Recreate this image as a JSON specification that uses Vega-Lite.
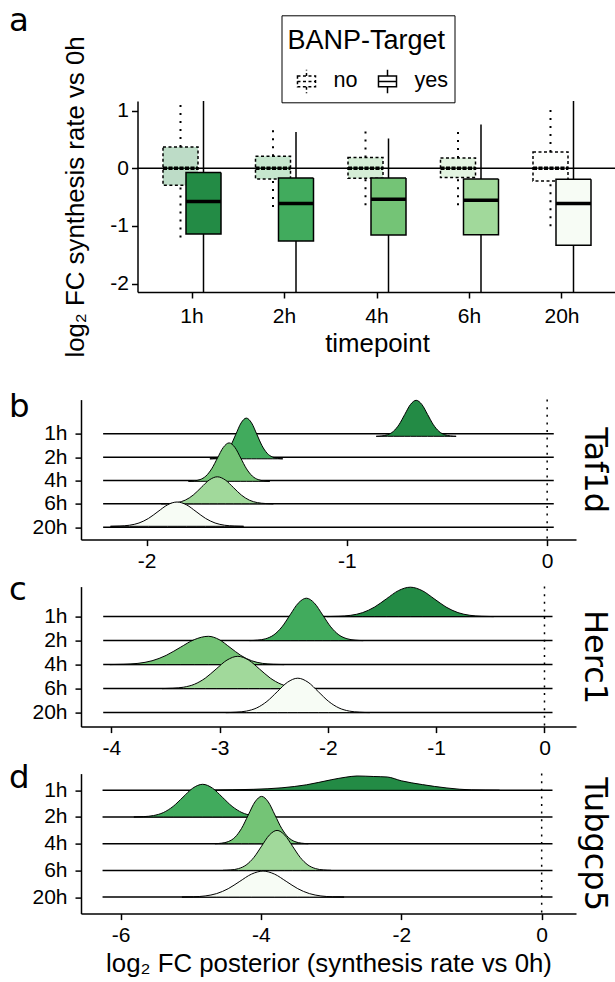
{
"$schema":"https://vega.github.io/schema/vega-lite/v6.json",
"padding":{"left":8,"top":4,"right":0,"bottom":0},
"background":"white",
"config":{"view":{"stroke":null},"font":"Liberation Sans",
"axis":{"grid":false,"domainColor":"#000","tickColor":"#000","labelColor":"#000","titleColor":"#000","labelFont":"Liberation Sans","titleFont":"Liberation Sans","labelFontSize":21,"titleFontSize":25.8,"titleFontWeight":"normal","domainWidth":1.5,"tickWidth":1.5,"tickSize":6,"labelFlush":false,"labelOverlap":false}},
"datasets":{
"boxes":[
{"tp":"1h","target":"no","lower":-1.2,"q1":-0.295,"median":0.0,"q3":0.37,"upper":1.13},
{"tp":"1h","target":"yes","lower":-2.5,"q1":-1.14,"median":-0.577,"q3":-0.075,"upper":1.5},
{"tp":"2h","target":"no","lower":-0.67,"q1":-0.185,"median":0.0,"q3":0.208,"upper":0.67},
{"tp":"2h","target":"yes","lower":-2.5,"q1":-1.26,"median":-0.61,"q3":-0.168,"upper":0.63},
{"tp":"4h","target":"no","lower":-0.64,"q1":-0.173,"median":0.0,"q3":0.185,"upper":0.66},
{"tp":"4h","target":"yes","lower":-2.5,"q1":-1.155,"median":-0.537,"q3":-0.168,"upper":0.515},
{"tp":"6h","target":"no","lower":-0.64,"q1":-0.16,"median":0.0,"q3":0.18,"upper":0.66},
{"tp":"6h","target":"yes","lower":-2.5,"q1":-1.15,"median":-0.555,"q3":-0.185,"upper":0.757},
{"tp":"20h","target":"no","lower":-1.005,"q1":-0.22,"median":0.0,"q3":0.283,"upper":1.06},
{"tp":"20h","target":"yes","lower":-2.5,"q1":-1.335,"median":-0.612,"q3":-0.19,"upper":1.5}],
"baseB":[{"tp":"1h","x":-2.217,"x2":0.033},{"tp":"2h","x":-2.217,"x2":0.033},{"tp":"4h","x":-2.217,"x2":0.033},{"tp":"6h","x":-2.217,"x2":0.033},{"tp":"20h","x":-2.217,"x2":0.033}],
"baseC":[{"tp":"1h","x":-4.075,"x2":0.074},{"tp":"2h","x":-4.075,"x2":0.074},{"tp":"4h","x":-4.075,"x2":0.074},{"tp":"6h","x":-4.075,"x2":0.074},{"tp":"20h","x":-4.075,"x2":0.074}],
"baseD":[{"tp":"1h","x":-6.256,"x2":0.154},{"tp":"2h","x":-6.256,"x2":0.154},{"tp":"4h","x":-6.256,"x2":0.154},{"tp":"6h","x":-6.256,"x2":0.154},{"tp":"20h","x":-6.256,"x2":0.154}],
"ridgeB":[
{"tp":"1h","x":-0.8535,"d":0},{"tp":"1h","x":-0.825,"d":0.04},{"tp":"1h","x":-0.7965,"d":0.158},{"tp":"1h","x":-0.768,"d":0.487},{"tp":"1h","x":-0.7395,"d":1.169},{"tp":"1h","x":-0.711,"d":2.183},{"tp":"1h","x":-0.6825,"d":3.177},{"tp":"1h","x":-0.654,"d":3.6},{"tp":"1h","x":-0.6255,"d":3.177},{"tp":"1h","x":-0.597,"d":2.183},{"tp":"1h","x":-0.5685,"d":1.169},{"tp":"1h","x":-0.54,"d":0.487},{"tp":"1h","x":-0.5115,"d":0.158},{"tp":"1h","x":-0.483,"d":0.04},{"tp":"1h","x":-0.4545,"d":0},
{"tp":"2h","x":-1.684,"d":0},{"tp":"2h","x":-1.658,"d":0.045},{"tp":"2h","x":-1.632,"d":0.179},{"tp":"2h","x":-1.606,"d":0.551},{"tp":"2h","x":-1.58,"d":1.322},{"tp":"2h","x":-1.554,"d":2.468},{"tp":"2h","x":-1.528,"d":3.592},{"tp":"2h","x":-1.502,"d":4.07},{"tp":"2h","x":-1.476,"d":3.592},{"tp":"2h","x":-1.45,"d":2.468},{"tp":"2h","x":-1.424,"d":1.322},{"tp":"2h","x":-1.398,"d":0.551},{"tp":"2h","x":-1.372,"d":0.179},{"tp":"2h","x":-1.346,"d":0.045},{"tp":"2h","x":-1.32,"d":0},
{"tp":"4h","x":-1.791,"d":0},{"tp":"4h","x":-1.762,"d":0.043},{"tp":"4h","x":-1.733,"d":0.169},{"tp":"4h","x":-1.704,"d":0.52},{"tp":"4h","x":-1.675,"d":1.247},{"tp":"4h","x":-1.646,"d":2.329},{"tp":"4h","x":-1.617,"d":3.389},{"tp":"4h","x":-1.588,"d":3.84},{"tp":"4h","x":-1.559,"d":3.389},{"tp":"4h","x":-1.53,"d":2.329},{"tp":"4h","x":-1.501,"d":1.247},{"tp":"4h","x":-1.472,"d":0.52},{"tp":"4h","x":-1.443,"d":0.169},{"tp":"4h","x":-1.414,"d":0.043},{"tp":"4h","x":-1.385,"d":0},
{"tp":"6h","x":-1.927,"d":0},{"tp":"6h","x":-1.887,"d":0.03},{"tp":"6h","x":-1.847,"d":0.119},{"tp":"6h","x":-1.807,"d":0.365},{"tp":"6h","x":-1.767,"d":0.877},{"tp":"6h","x":-1.727,"d":1.638},{"tp":"6h","x":-1.687,"d":2.383},{"tp":"6h","x":-1.647,"d":2.7},{"tp":"6h","x":-1.607,"d":2.383},{"tp":"6h","x":-1.567,"d":1.638},{"tp":"6h","x":-1.527,"d":0.877},{"tp":"6h","x":-1.487,"d":0.365},{"tp":"6h","x":-1.447,"d":0.119},{"tp":"6h","x":-1.407,"d":0.03},{"tp":"6h","x":-1.367,"d":0},
{"tp":"20h","x":-2.1805,"d":0},{"tp":"20h","x":-2.133,"d":0.027},{"tp":"20h","x":-2.0855,"d":0.107},{"tp":"20h","x":-2.038,"d":0.329},{"tp":"20h","x":-1.9905,"d":0.789},{"tp":"20h","x":-1.943,"d":1.474},{"tp":"20h","x":-1.8955,"d":2.144},{"tp":"20h","x":-1.848,"d":2.43},{"tp":"20h","x":-1.8005,"d":2.144},{"tp":"20h","x":-1.753,"d":1.474},{"tp":"20h","x":-1.7055,"d":0.789},{"tp":"20h","x":-1.658,"d":0.329},{"tp":"20h","x":-1.6105,"d":0.107},{"tp":"20h","x":-1.563,"d":0.027},{"tp":"20h","x":-1.5155,"d":0}],
"ridgeC":[
{"tp":"1h","x":-2.009,"d":0},{"tp":"1h","x":-1.899,"d":0.033},{"tp":"1h","x":-1.789,"d":0.129},{"tp":"1h","x":-1.679,"d":0.398},{"tp":"1h","x":-1.569,"d":0.955},{"tp":"1h","x":-1.459,"d":1.783},{"tp":"1h","x":-1.349,"d":2.595},{"tp":"1h","x":-1.239,"d":2.94},{"tp":"1h","x":-1.129,"d":2.595},{"tp":"1h","x":-1.019,"d":1.783},{"tp":"1h","x":-0.909,"d":0.955},{"tp":"1h","x":-0.799,"d":0.398},{"tp":"1h","x":-0.689,"d":0.129},{"tp":"1h","x":-0.579,"d":0.033},{"tp":"1h","x":-0.469,"d":0},
{"tp":"2h","x":-2.724,"d":0},{"tp":"2h","x":-2.649,"d":0.047},{"tp":"2h","x":-2.574,"d":0.186},{"tp":"2h","x":-2.499,"d":0.574},{"tp":"2h","x":-2.424,"d":1.377},{"tp":"2h","x":-2.349,"d":2.572},{"tp":"2h","x":-2.274,"d":3.742},{"tp":"2h","x":-2.199,"d":4.24},{"tp":"2h","x":-2.124,"d":3.742},{"tp":"2h","x":-2.049,"d":2.572},{"tp":"2h","x":-1.974,"d":1.377},{"tp":"2h","x":-1.899,"d":0.574},{"tp":"2h","x":-1.824,"d":0.186},{"tp":"2h","x":-1.749,"d":0.047},{"tp":"2h","x":-1.674,"d":0},
{"tp":"4h","x":-4.014,"d":0},{"tp":"4h","x":-3.884,"d":0.031},{"tp":"4h","x":-3.754,"d":0.124},{"tp":"4h","x":-3.624,"d":0.383},{"tp":"4h","x":-3.494,"d":0.919},{"tp":"4h","x":-3.364,"d":1.716},{"tp":"4h","x":-3.234,"d":2.497},{"tp":"4h","x":-3.104,"d":2.83},{"tp":"4h","x":-3.004,"d":2.497},{"tp":"4h","x":-2.904,"d":1.716},{"tp":"4h","x":-2.804,"d":0.919},{"tp":"4h","x":-2.704,"d":0.383},{"tp":"4h","x":-2.604,"d":0.124},{"tp":"4h","x":-2.504,"d":0.031},{"tp":"4h","x":-2.404,"d":0},
{"tp":"6h","x":-3.532,"d":0},{"tp":"6h","x":-3.432,"d":0.036},{"tp":"6h","x":-3.332,"d":0.142},{"tp":"6h","x":-3.232,"d":0.437},{"tp":"6h","x":-3.132,"d":1.049},{"tp":"6h","x":-3.032,"d":1.959},{"tp":"6h","x":-2.932,"d":2.85},{"tp":"6h","x":-2.832,"d":3.23},{"tp":"6h","x":-2.732,"d":2.85},{"tp":"6h","x":-2.632,"d":1.959},{"tp":"6h","x":-2.532,"d":1.049},{"tp":"6h","x":-2.432,"d":0.437},{"tp":"6h","x":-2.332,"d":0.142},{"tp":"6h","x":-2.232,"d":0.036},{"tp":"6h","x":-2.132,"d":0},
{"tp":"20h","x":-2.943,"d":0},{"tp":"20h","x":-2.848,"d":0.038},{"tp":"20h","x":-2.753,"d":0.151},{"tp":"20h","x":-2.658,"d":0.465},{"tp":"20h","x":-2.563,"d":1.117},{"tp":"20h","x":-2.468,"d":2.086},{"tp":"20h","x":-2.373,"d":3.036},{"tp":"20h","x":-2.278,"d":3.44},{"tp":"20h","x":-2.183,"d":3.036},{"tp":"20h","x":-2.088,"d":2.086},{"tp":"20h","x":-1.993,"d":1.117},{"tp":"20h","x":-1.898,"d":0.465},{"tp":"20h","x":-1.803,"d":0.151},{"tp":"20h","x":-1.708,"d":0.038},{"tp":"20h","x":-1.613,"d":0}],
"ridgeD":[
{"tp":"1h","x":-4.8,"d":0},{"tp":"1h","x":-4.4,"d":0.05},{"tp":"1h","x":-4.1,"d":0.1},{"tp":"1h","x":-3.7,"d":0.25},{"tp":"1h","x":-3.35,"d":0.55},{"tp":"1h","x":-3.0,"d":1.05},{"tp":"1h","x":-2.8,"d":1.3},{"tp":"1h","x":-2.63,"d":1.43},{"tp":"1h","x":-2.4,"d":1.38},{"tp":"1h","x":-2.2,"d":1.33},{"tp":"1h","x":-2.0,"d":0.95},{"tp":"1h","x":-1.7,"d":0.57},{"tp":"1h","x":-1.35,"d":0.23},{"tp":"1h","x":-1.0,"d":0.04},{"tp":"1h","x":-0.6,"d":0},
{"tp":"2h","x":-5.81,"d":0},{"tp":"2h","x":-5.67,"d":0.036},{"tp":"2h","x":-5.53,"d":0.144},{"tp":"2h","x":-5.39,"d":0.442},{"tp":"2h","x":-5.25,"d":1.062},{"tp":"2h","x":-5.11,"d":1.983},{"tp":"2h","x":-4.97,"d":2.886},{"tp":"2h","x":-4.83,"d":3.27},{"tp":"2h","x":-4.69,"d":2.886},{"tp":"2h","x":-4.55,"d":1.983},{"tp":"2h","x":-4.41,"d":1.062},{"tp":"2h","x":-4.27,"d":0.442},{"tp":"2h","x":-4.13,"d":0.144},{"tp":"2h","x":-3.99,"d":0.036},{"tp":"2h","x":-3.85,"d":0},
{"tp":"4h","x":-4.655,"d":0},{"tp":"4h","x":-4.56,"d":0.053},{"tp":"4h","x":-4.465,"d":0.208},{"tp":"4h","x":-4.37,"d":0.64},{"tp":"4h","x":-4.275,"d":1.536},{"tp":"4h","x":-4.18,"d":2.869},{"tp":"4h","x":-4.085,"d":4.174},{"tp":"4h","x":-3.99,"d":4.73},{"tp":"4h","x":-3.895,"d":4.174},{"tp":"4h","x":-3.8,"d":2.869},{"tp":"4h","x":-3.705,"d":1.536},{"tp":"4h","x":-3.61,"d":0.64},{"tp":"4h","x":-3.515,"d":0.208},{"tp":"4h","x":-3.42,"d":0.053},{"tp":"4h","x":-3.325,"d":0},
{"tp":"6h","x":-4.54,"d":0},{"tp":"6h","x":-4.43,"d":0.044},{"tp":"6h","x":-4.32,"d":0.176},{"tp":"6h","x":-4.21,"d":0.541},{"tp":"6h","x":-4.1,"d":1.299},{"tp":"6h","x":-3.99,"d":2.426},{"tp":"6h","x":-3.88,"d":3.53},{"tp":"6h","x":-3.77,"d":4.0},{"tp":"6h","x":-3.66,"d":3.53},{"tp":"6h","x":-3.55,"d":2.426},{"tp":"6h","x":-3.44,"d":1.299},{"tp":"6h","x":-3.33,"d":0.541},{"tp":"6h","x":-3.22,"d":0.176},{"tp":"6h","x":-3.11,"d":0.044},{"tp":"6h","x":-3.0,"d":0},
{"tp":"20h","x":-5.125,"d":0},{"tp":"20h","x":-4.96,"d":0.029},{"tp":"20h","x":-4.795,"d":0.114},{"tp":"20h","x":-4.63,"d":0.352},{"tp":"20h","x":-4.465,"d":0.844},{"tp":"20h","x":-4.3,"d":1.577},{"tp":"20h","x":-4.135,"d":2.295},{"tp":"20h","x":-3.97,"d":2.6},{"tp":"20h","x":-3.805,"d":2.295},{"tp":"20h","x":-3.64,"d":1.577},{"tp":"20h","x":-3.475,"d":0.844},{"tp":"20h","x":-3.31,"d":0.352},{"tp":"20h","x":-3.145,"d":0.114},{"tp":"20h","x":-2.98,"d":0.029},{"tp":"20h","x":-2.815,"d":0}]
},
"bounds":"flush","spacing":107.6,
"vconcat":[
{"width":535.5,"height":191,
 "layer":[
  {"data":{"values":[{}]},
   "mark":{"type":"rule","stroke":"black","strokeWidth":1.5},
   "encoding":{
    "x":{"datum":0,"type":"quantitative","scale":{"domain":[0,1],"range":[56.5,535.5],"nice":false,"zero":false},"axis":{"orient":"top","title":"a","labels":false,"ticks":false,"domain":false,"titleX":-72.5,"titleY":-70.7,"titleAngle":0,"titleAlign":"left","titleBaseline":"alphabetic","titleFont":"DejaVu Sans","titleFontSize":32.4}},
    "x2":{"datum":1},
    "y":{"datum":0,"type":"quantitative","title":"log₂ FC synthesis rate vs 0h"}}},
  {"data":{"name":"boxes"},
   "encoding":{
    "x":{"field":"tp","type":"nominal","title":"timepoint","scale":{"type":"band","domain":["1h","2h","4h","6h","20h"],"range":[56.5,535.5],"paddingInner":0,"paddingOuter":0.0892},"axis":{"labelAngle":0,"tickSize":6,"labelPadding":7,"titlePadding":5}},
    "xOffset":{"field":"target","type":"nominal","scale":{"type":"band","domain":["no","yes"],"range":[23.25,69.25],"paddingInner":0,"paddingOuter":0}}},
   "layer":[
    {"transform":[{"filter":"datum.target == 'no'"}],
     "mark":{"type":"rule","stroke":"black","strokeWidth":2,"strokeDash":[2,6],"clip":true},
     "encoding":{"y":{"field":"q3","type":"quantitative","title":"log₂ FC synthesis rate vs 0h"},"y2":{"field":"upper"}}},
    {"transform":[{"filter":"datum.target == 'no'"}],
     "mark":{"type":"rule","stroke":"black","strokeWidth":2,"strokeDash":[2,6],"clip":true},
     "encoding":{"y":{"field":"lower","type":"quantitative","title":"log₂ FC synthesis rate vs 0h"},"y2":{"field":"q1"}}},
    {"transform":[{"filter":"datum.target == 'yes'"}],
     "mark":{"type":"rule","stroke":"black","strokeWidth":1.5,"clip":true},
     "encoding":{"y":{"field":"q3","type":"quantitative","title":"log₂ FC synthesis rate vs 0h"},"y2":{"field":"upper"}}},
    {"transform":[{"filter":"datum.target == 'yes'"}],
     "mark":{"type":"rule","stroke":"black","strokeWidth":1.5,"clip":true},
     "encoding":{"y":{"field":"lower","type":"quantitative","title":"log₂ FC synthesis rate vs 0h"},"y2":{"field":"q1"}}},
    {"mark":{"type":"bar","width":35,"stroke":"black","strokeWidth":1.5,"clip":true},
     "encoding":{
      "y":{"field":"q3","type":"quantitative","title":"log₂ FC synthesis rate vs 0h","scale":{"domain":[-2.144,1.166],"nice":false,"zero":false},"axis":{"offset":-56.5,"values":[-2,-1,0,1],"labelExpr":"'' + datum.value","tickSize":6,"labelPadding":3,"titleX":-62,"titleBaseline":"middle"}},
      "y2":{"field":"q1"},
      "fill":{"field":"tp","type":"nominal","scale":{"domain":["1h","2h","4h","6h","20h"],"range":["#238b45","#41ab5d","#74c476","#a1d99b","#f7fcf5"]},"legend":null},
      "fillOpacity":{"field":"target","type":"nominal","scale":{"domain":["no","yes"],"range":[0.3,1]},"legend":null},
      "strokeDash":{"field":"target","type":"nominal","title":"BANP-Target","scale":{"domain":["no","yes"],"range":[[3,2.5],[1,0]]},
        "legend":{"orient":"none","legendX":200.5,"legendY":-85.7,"direction":"horizontal","strokeColor":"black","fillColor":"white","padding":6,"cornerRadius":0,
          "titleFont":"Liberation Sans","titleFontSize":27,"titleFontWeight":"normal","titleColor":"black","titleAnchor":"start","titleBaseline":"line-top","titleLineHeight":40,"titlePadding":14,
          "labelFont":"Liberation Sans","labelFontSize":21.6,"labelColor":"black","labelOffset":8,
          "symbolType":"M-0.5,-0.3H0.5V0.3H-0.5Z M-0.5,0H0.5 M0,-0.3V-0.65 M0,0.3V0.65","symbolSize":1300,"symbolStrokeWidth":1.5,"symbolStrokeColor":"black","symbolFillColor":"white","columnPadding":10,
          "encode":{"symbols":{"update":{"fill":{"value":"white"},"stroke":{"value":"black"},"strokeWidth":{"value":1.5},"size":{"value":1300},"shape":{"value":"M-0.5,-0.3H0.5V0.3H-0.5Z M-0.5,0H0.5 M0,-0.3V-0.65 M0,0.3V0.65"}}}}}}}},
    {"mark":{"type":"bar","width":35,"fill":"transparent","stroke":"black","strokeWidth":3.5,"clip":true},
     "encoding":{
      "y":{"field":"median","type":"quantitative","title":"log₂ FC synthesis rate vs 0h"},
      "y2":{"field":"median"},
      "strokeDash":{"field":"target","type":"nominal","title":"BANP-Target"}}}
   ]}
 ],
 "resolve":{"scale":{"x":"independent"}}},
{"bounds":"flush","spacing":47,
 "vconcat":[
 {"width":495,"height":140,
  "layer":[
   {"data":{"name":"baseB"},"mark":{"type":"rule","stroke":"black","strokeWidth":1.5},
    "encoding":{
     "y":{"field":"tp","type":"ordinal","scale":{"type":"point","domain":["1h","2h","4h","6h","20h"],"padding":1.111,"align":0.734},"axis":{"title":"b","titleX":-72.5,"titleY":16.7,"titleAngle":0,"titleAlign":"left","titleBaseline":"alphabetic","titleFont":"DejaVu Sans","titleFontSize":32.4,"labelPadding":8,"tickSize":6}},
     "x":{"field":"x","type":"quantitative","title":null,"scale":{"domain":[-2.3275,0.144],"nice":false,"zero":false},"axis":{"values":[-2,-1,0],"labelExpr":"'' + datum.value","tickSize":6,"labelPadding":5}},
     "x2":{"field":"x2"}}},
   {"data":{"name":"ridgeB"},"transform":[{"filter":"datum.tp == '1h'"}],"mark":{"type":"area","interpolate":"monotone","fill":"#238b45","stroke":"black","strokeWidth":1},
    "encoding":{"x":{"field":"x","type":"quantitative","title":null},"y":{"field":"d","type":"quantitative","scale":{"domain":[0,5],"range":[36.7,-13.3],"nice":false,"zero":false},"axis":null}}},
   {"data":{"name":"ridgeB"},"transform":[{"filter":"datum.tp == '2h'"}],"mark":{"type":"area","interpolate":"monotone","fill":"#41ab5d","stroke":"black","strokeWidth":1},
    "encoding":{"x":{"field":"x","type":"quantitative","title":null},"y":{"field":"d","type":"quantitative","scale":{"domain":[0,5],"range":[59.2,9.2],"nice":false,"zero":false},"axis":null}}},
   {"data":{"name":"ridgeB"},"transform":[{"filter":"datum.tp == '4h'"}],"mark":{"type":"area","interpolate":"monotone","fill":"#74c476","stroke":"black","strokeWidth":1},
    "encoding":{"x":{"field":"x","type":"quantitative","title":null},"y":{"field":"d","type":"quantitative","scale":{"domain":[0,5],"range":[81.7,31.7],"nice":false,"zero":false},"axis":null}}},
   {"data":{"name":"ridgeB"},"transform":[{"filter":"datum.tp == '6h'"}],"mark":{"type":"area","interpolate":"monotone","fill":"#a1d99b","stroke":"black","strokeWidth":1},
    "encoding":{"x":{"field":"x","type":"quantitative","title":null},"y":{"field":"d","type":"quantitative","scale":{"domain":[0,5],"range":[104.2,54.2],"nice":false,"zero":false},"axis":null}}},
   {"data":{"name":"ridgeB"},"transform":[{"filter":"datum.tp == '20h'"}],"mark":{"type":"area","interpolate":"monotone","fill":"#f7fcf5","stroke":"black","strokeWidth":1},
    "encoding":{"x":{"field":"x","type":"quantitative","title":null},"y":{"field":"d","type":"quantitative","scale":{"domain":[0,5],"range":[126.7,76.7],"nice":false,"zero":false},
     "axis":{"orient":"right","title":"Taf1d","labels":false,"ticks":false,"domain":false,"titleX":18,"titleY":70,"titleAngle":90,"titleAlign":"center","titleBaseline":"middle","titleFont":"DejaVu Sans","titleFontSize":32}}}},
   {"data":{"values":[{}]},"mark":{"type":"rule","stroke":"black","strokeWidth":1.5,"strokeDash":[2,5.6]},"encoding":{"x":{"datum":0,"type":"quantitative","title":null}}}
  ],
  "resolve":{"scale":{"y":"independent"}}},
 {"width":495,"height":140,
  "layer":[
   {"data":{"name":"baseC"},"mark":{"type":"rule","stroke":"black","strokeWidth":1.5},
    "encoding":{
     "y":{"field":"tp","type":"ordinal","scale":{"type":"point","domain":["1h","2h","4h","6h","20h"],"padding":0.9167,"align":0.682},"axis":{"title":"c","titleX":-72.5,"titleY":13.3,"titleAngle":0,"titleAlign":"left","titleBaseline":"alphabetic","titleFont":"DejaVu Sans","titleFontSize":32.4,"labelPadding":8,"tickSize":6}},
     "x":{"field":"x","type":"quantitative","title":null,"scale":{"domain":[-4.28,0.291],"nice":false,"zero":false},"axis":{"values":[-4,-3,-2,-1,0],"labelExpr":"'' + datum.value","tickSize":6,"labelPadding":5}},
     "x2":{"field":"x2"}}},
   {"data":{"name":"ridgeC"},"transform":[{"filter":"datum.tp == '1h'"}],"mark":{"type":"area","interpolate":"monotone","fill":"#238b45","stroke":"black","strokeWidth":1},
    "encoding":{"x":{"field":"x","type":"quantitative","title":null},"y":{"field":"d","type":"quantitative","scale":{"domain":[0,5],"range":[30,-20],"nice":false,"zero":false},"axis":null}}},
   {"data":{"name":"ridgeC"},"transform":[{"filter":"datum.tp == '2h'"}],"mark":{"type":"area","interpolate":"monotone","fill":"#41ab5d","stroke":"black","strokeWidth":1},
    "encoding":{"x":{"field":"x","type":"quantitative","title":null},"y":{"field":"d","type":"quantitative","scale":{"domain":[0,5],"range":[54,4],"nice":false,"zero":false},"axis":null}}},
   {"data":{"name":"ridgeC"},"transform":[{"filter":"datum.tp == '4h'"}],"mark":{"type":"area","interpolate":"monotone","fill":"#74c476","stroke":"black","strokeWidth":1},
    "encoding":{"x":{"field":"x","type":"quantitative","title":null},"y":{"field":"d","type":"quantitative","scale":{"domain":[0,5],"range":[78,28],"nice":false,"zero":false},"axis":null}}},
   {"data":{"name":"ridgeC"},"transform":[{"filter":"datum.tp == '6h'"}],"mark":{"type":"area","interpolate":"monotone","fill":"#a1d99b","stroke":"black","strokeWidth":1},
    "encoding":{"x":{"field":"x","type":"quantitative","title":null},"y":{"field":"d","type":"quantitative","scale":{"domain":[0,5],"range":[102,52],"nice":false,"zero":false},"axis":null}}},
   {"data":{"name":"ridgeC"},"transform":[{"filter":"datum.tp == '20h'"}],"mark":{"type":"area","interpolate":"monotone","fill":"#f7fcf5","stroke":"black","strokeWidth":1},
    "encoding":{"x":{"field":"x","type":"quantitative","title":null},"y":{"field":"d","type":"quantitative","scale":{"domain":[0,5],"range":[126,76],"nice":false,"zero":false},
     "axis":{"orient":"right","title":"Herc1","labels":false,"ticks":false,"domain":false,"titleX":18,"titleY":70,"titleAngle":90,"titleAlign":"center","titleBaseline":"middle","titleFont":"DejaVu Sans","titleFontSize":32}}}},
   {"data":{"values":[{}]},"mark":{"type":"rule","stroke":"black","strokeWidth":1.5,"strokeDash":[2,5.6]},"encoding":{"x":{"datum":0,"type":"quantitative","title":null}}}
  ],
  "resolve":{"scale":{"y":"independent"}}},
 {"width":495,"height":140,
  "layer":[
   {"data":{"name":"baseD"},"mark":{"type":"rule","stroke":"black","strokeWidth":1.5},
    "encoding":{
     "y":{"field":"tp","type":"ordinal","scale":{"type":"point","domain":["1h","2h","4h","6h","20h"],"padding":0.6217,"align":0.503},"axis":{"title":"d","titleX":-72.5,"titleY":14,"titleAngle":0,"titleAlign":"left","titleBaseline":"alphabetic","titleFont":"DejaVu Sans","titleFontSize":32.4,"labelPadding":8,"tickSize":6}},
     "x":{"field":"x","type":"quantitative","title":"log₂ FC posterior (synthesis rate vs 0h)","scale":{"domain":[-6.563,0.489],"nice":false,"zero":false},"axis":{"values":[-6,-4,-2,0],"labelExpr":"'' + datum.value","tickSize":6,"labelPadding":5,"titlePadding":6}},
     "x2":{"field":"x2"}}},
   {"data":{"name":"ridgeD"},"transform":[{"filter":"datum.tp == '1h'"}],"mark":{"type":"area","interpolate":"monotone","fill":"#238b45","stroke":"black","strokeWidth":1},
    "encoding":{"x":{"field":"x","type":"quantitative","title":"log₂ FC posterior (synthesis rate vs 0h)"},"y":{"field":"d","type":"quantitative","scale":{"domain":[0,5],"range":[16.7,-33.3],"nice":false,"zero":false},"axis":null}}},
   {"data":{"name":"ridgeD"},"transform":[{"filter":"datum.tp == '2h'"}],"mark":{"type":"area","interpolate":"monotone","fill":"#41ab5d","stroke":"black","strokeWidth":1},
    "encoding":{"x":{"field":"x","type":"quantitative","title":"log₂ FC posterior (synthesis rate vs 0h)"},"y":{"field":"d","type":"quantitative","scale":{"domain":[0,5],"range":[43.4,-6.6],"nice":false,"zero":false},"axis":null}}},
   {"data":{"name":"ridgeD"},"transform":[{"filter":"datum.tp == '4h'"}],"mark":{"type":"area","interpolate":"monotone","fill":"#74c476","stroke":"black","strokeWidth":1},
    "encoding":{"x":{"field":"x","type":"quantitative","title":"log₂ FC posterior (synthesis rate vs 0h)"},"y":{"field":"d","type":"quantitative","scale":{"domain":[0,5],"range":[70.1,20.1],"nice":false,"zero":false},"axis":null}}},
   {"data":{"name":"ridgeD"},"transform":[{"filter":"datum.tp == '6h'"}],"mark":{"type":"area","interpolate":"monotone","fill":"#a1d99b","stroke":"black","strokeWidth":1},
    "encoding":{"x":{"field":"x","type":"quantitative","title":"log₂ FC posterior (synthesis rate vs 0h)"},"y":{"field":"d","type":"quantitative","scale":{"domain":[0,5],"range":[96.8,46.8],"nice":false,"zero":false},"axis":null}}},
   {"data":{"name":"ridgeD"},"transform":[{"filter":"datum.tp == '20h'"}],"mark":{"type":"area","interpolate":"monotone","fill":"#f7fcf5","stroke":"black","strokeWidth":1},
    "encoding":{"x":{"field":"x","type":"quantitative","title":"log₂ FC posterior (synthesis rate vs 0h)"},"y":{"field":"d","type":"quantitative","scale":{"domain":[0,5],"range":[123.5,73.5],"nice":false,"zero":false},
     "axis":{"orient":"right","title":"Tubgcp5","labels":false,"ticks":false,"domain":false,"titleX":18,"titleY":70,"titleAngle":90,"titleAlign":"center","titleBaseline":"middle","titleFont":"DejaVu Sans","titleFontSize":32}}}},
   {"data":{"values":[{}]},"mark":{"type":"rule","stroke":"black","strokeWidth":1.5,"strokeDash":[2,5.6]},"encoding":{"x":{"datum":0,"type":"quantitative","title":"log₂ FC posterior (synthesis rate vs 0h)"}}}
  ],
  "resolve":{"scale":{"y":"independent"}}}
 ]}
]
}
